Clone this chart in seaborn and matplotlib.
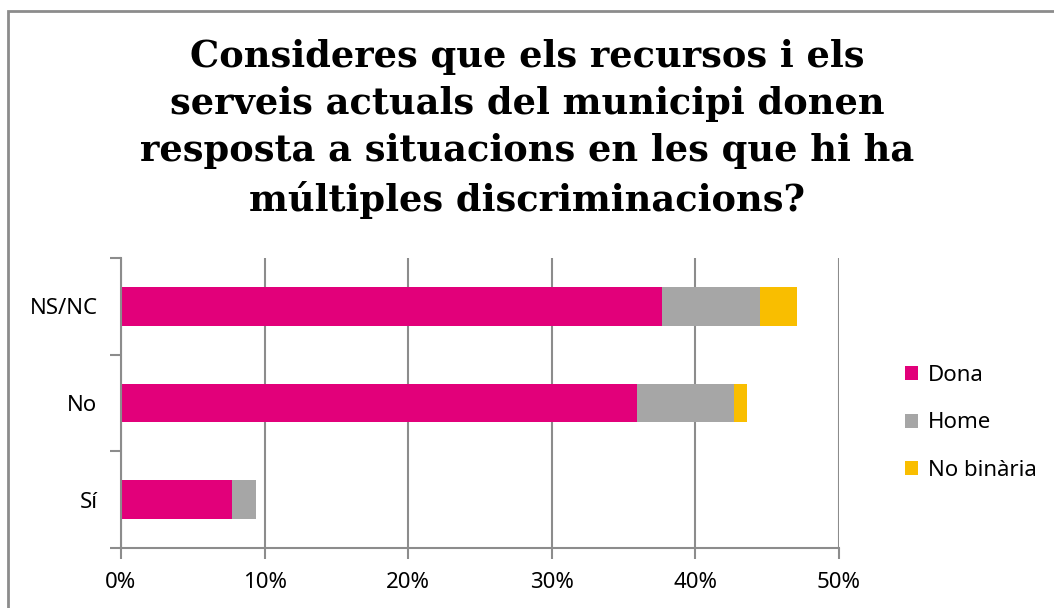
import matplotlib
matplotlib.use("Agg")
import matplotlib.pyplot as plt
import seaborn as sns
import pandas as pd
from matplotlib.patches import Rectangle
from matplotlib.ticker import FuncFormatter

categories = ["NS/NC", "No", "Sí"]
dona = [37.7, 35.9, 7.7]
home = [6.8, 6.8, 1.7]
no_binaria = [2.6, 0.9, 0.0]
series_names = ["Dona", "Home", "No binària"]
colors = ["#E2007A", "#A6A6A6", "#F9BE00"]
xticks = [0, 10, 20, 30, 40, 50]

title = ("Consideres que els recursos i els\n"
         "serveis actuals del municipi donen\n"
         "resposta a situacions en les que hi ha\n"
         "múltiples discriminacions?")

sns.set_theme(style="white")
plt.rcParams["font.family"] = ["Noto Sans", "DejaVu Sans"]
plt.rcParams["text.color"] = "black"

df = pd.DataFrame({"cat": categories, "Dona": dona, "Home": home, "No binària": no_binaria})
df["c1"] = df["Dona"]
df["c2"] = df["Dona"] + df["Home"]
df["c3"] = df["c2"] + df["No binària"]

fig = plt.figure(figsize=(10.54, 6.08), dpi=100)
ax = fig.add_axes([121 / 1054, 1 - 548 / 608, (839 - 121) / 1054, (548 - 258) / 608])

# stacked bars: draw cumulative totals back to front
for col, name, color in zip(["c3", "c2", "c1"], series_names[::-1], colors[::-1]):
    sns.barplot(data=df, x=col, y="cat", order=categories, color=color,
                width=0.4, ax=ax, label=name, saturation=1, edgecolor="none")

handles, labels = ax.get_legend_handles_labels()
if ax.get_legend() is not None:
    ax.get_legend().remove()

ax.set_xlim(0, 50)
ax.set_ylim(2.5, -0.5)
ax.set_xticks(xticks)
ax.xaxis.set_major_formatter(FuncFormatter(lambda v, p: f"{v:.0f}%"))
ax.set_xlabel("")
ax.set_ylabel("")
ax.grid(axis="x", color="#8C8C8C", linewidth=1.5)
ax.set_axisbelow(True)
for s in ["top", "right"]:
    ax.spines[s].set_visible(False)
for s in ["left", "bottom"]:
    ax.spines[s].set_color("#8C8C8C")
    ax.spines[s].set_linewidth(1.5)

# category separators as y ticks
ax.set_yticks([-0.5, 0.5, 1.5, 2.5], minor=True)
ax.set_yticks([0, 1, 2])
ax.set_yticklabels(categories)
ax.tick_params(axis="y", which="minor", length=8, width=1.5, color="#8C8C8C", left=True)
ax.tick_params(axis="y", which="major", length=0, pad=17, labelsize=16, labelcolor="black")
ax.tick_params(axis="x", which="major", length=8, width=1.5, color="#8C8C8C", bottom=True,
               pad=9, labelsize=16, labelcolor="black")

order = [labels.index(n) for n in series_names]
fig.legend([handles[i] for i in order], [labels[i] for i in order],
           loc="center left", bbox_to_anchor=(896 / 1054, 1 - 423 / 608),
           frameon=False, fontsize=16, handlelength=0.6, handleheight=0.6,
           labelspacing=1.2, handletextpad=0.45, borderaxespad=0, labelcolor="black")

fig.text(527 / 1054, 1 - 129 / 608, title, ha="center", va="center", color="black",
         family="DejaVu Serif", fontweight="bold", fontsize=26.5, linespacing=1.4)

fig.patches.append(Rectangle((8 / 1054, -0.05), 1.1, 1 - 11 / 608 + 0.05,
                             transform=fig.transFigure, fill=False,
                             edgecolor="#8C8C8C", linewidth=2))

fig.savefig("out.png", dpi=100)
